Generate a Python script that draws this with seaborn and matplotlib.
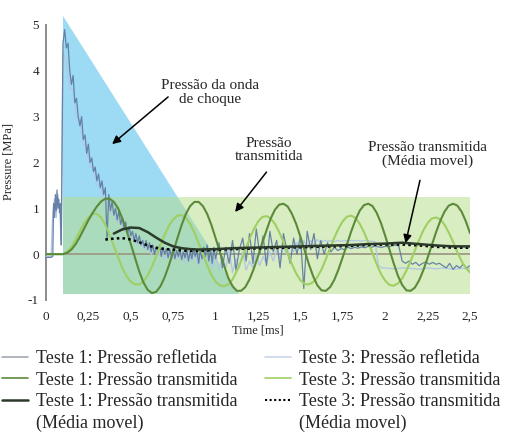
import matplotlib
matplotlib.use("Agg")
import matplotlib.pyplot as plt
import numpy as np
import pandas as pd
import seaborn as sns
from matplotlib.lines import Line2D

# ---- data (time in ms, pressure in MPa) ----
# reflected pressure, test 1 (dark, noisy)
t_refl1 = [0, 0.03, 0.04, 0.045, 0.05, 0.055, 0.06, 0.065, 0.07, 0.075, 0.08, 0.085, 0.09, 0.095, 0.1,
           0.11, 0.12, 0.13, 0.14, 0.15, 0.16, 0.17, 0.18, 0.19, 0.20,
           0.21, 0.22, 0.23, 0.24, 0.25, 0.26, 0.27, 0.28, 0.29, 0.30,
           0.31, 0.32, 0.33, 0.34, 0.35, 0.36, 0.37, 0.38, 0.39, 0.40,
           0.41, 0.42, 0.43, 0.44, 0.45, 0.46, 0.47, 0.48, 0.49, 0.50,
           0.51, 0.52, 0.53, 0.54, 0.55, 0.56, 0.57, 0.58, 0.59, 0.60,
           0.61, 0.62, 0.63, 0.64, 0.65, 0.66, 0.67, 0.68, 0.69, 0.70,
           0.71, 0.72, 0.73, 0.74, 0.75, 0.76, 0.77, 0.78, 0.79, 0.80,
           0.81, 0.82, 0.83, 0.84, 0.85, 0.86, 0.87, 0.88, 0.89, 0.90,
           0.91, 0.92, 0.93, 0.94, 0.95, 0.96, 0.97, 0.98, 0.99,
           1.00, 1.02, 1.04, 1.06, 1.08, 1.10, 1.12, 1.14, 1.16, 1.18,
           1.20, 1.22, 1.24, 1.26, 1.28, 1.30, 1.32, 1.34, 1.36, 1.38,
           1.40, 1.42, 1.44, 1.46, 1.48, 1.50, 1.52, 1.54, 1.56, 1.58,
           1.60, 1.62, 1.64, 1.66, 1.68, 1.70, 1.72, 1.74, 1.76, 1.78,
           1.80, 1.82, 1.84, 1.86, 1.88, 1.90, 1.92, 1.94, 1.96, 1.98,
           2.00, 2.02, 2.04, 2.06, 2.08, 2.10, 2.12, 2.14, 2.16, 2.18,
           2.20, 2.22, 2.24, 2.26, 2.28, 2.30, 2.32, 2.34, 2.36, 2.38,
           2.40, 2.42, 2.44, 2.46, 2.48, 2.50]
p_refl1 = [-0.07, -0.07, -0.05, 1.1, 0.8, 1.3, 0.95, 1.4, 1.0, 1.2, 0.9, 1.1, 0.2, 2.5, 4.6,
           4.9, 4.5, 4.6, 4.0, 3.7, 3.9, 3.3, 3.4, 3.0, 2.8,
           3.0, 2.5, 2.6, 2.2, 2.4, 2.0, 2.1, 1.8, 1.9, 1.6,
           1.75, 1.45, 1.6, 1.3, 1.45, 0.3, 1.3, 0.95, 1.15, 0.85,
           1.0, 0.75, 0.95, 0.65, 0.8, 0.55, 0.7, 0.45, 0.6, 0.4,
           0.5, 0.3, 0.45, 0.25, 0.4, 0.2, 0.3, 0.15, 0.3, 0.1,
           0.25, 0.05, 0.2, 0.0, 0.15, 0.05, 0.2, -0.05, 0.15, 0.0,
           0.12, -0.08, 0.1, -0.05, 0.12, -0.1, 0.08, -0.05, 0.1, -0.12,
           0.05, -0.08, 0.1, -0.15, 0.05, -0.1, 0.12, -0.05, 0.08, -0.2,
           0.1, -0.1, 0.15, -0.05, 0.2, -0.15, 0.1, -0.2, 0.15,
           -0.1, 0.25, -0.3, 0.15, -0.2, 0.3, -0.35, 0.1, 0.35, -0.15,
           0.45, -0.2, 0.55, 0.0, 0.4, -0.25, 0.5, 0.05, 0.3, -0.3,
           0.45, 0.1, -0.2, 0.35, 0.0, 0.4, -0.75, 0.5, 0.1, 0.45,
           -0.1, 0.3, 0.0, 0.25, 0.05, 0.15, 0.08, 0.12, 0.1, 0.15,
           0.12, 0.15, 0.13, 0.16, 0.14, 0.17, 0.15, 0.18, 0.16, 0.15,
           0.17, 0.16, 0.18, 0.2, 0.18, -0.15, -0.2, -0.15, -0.22, -0.18,
           -0.25, -0.2, -0.17, -0.22, -0.18, -0.22, -0.2, -0.25, -0.3, -0.2,
           -0.33, -0.25, -0.3, -0.22, -0.3, -0.25]

# reflected pressure, test 3 (light)
t_refl3 = [0, 0.03, 0.04, 0.05, 0.06, 0.07, 0.08, 0.09, 0.1,
           0.12, 0.14, 0.16, 0.18, 0.20, 0.22, 0.24, 0.26, 0.28, 0.30,
           0.32, 0.34, 0.36, 0.38, 0.40, 0.42, 0.44, 0.46, 0.48, 0.50,
           0.52, 0.54, 0.56, 0.58, 0.60, 0.62, 0.64, 0.66, 0.68, 0.70,
           0.72, 0.74, 0.76, 0.78, 0.80, 0.82, 0.84, 0.86, 0.88, 0.90,
           0.92, 0.94, 0.96, 0.98, 1.00, 1.02, 1.04, 1.06, 1.08, 1.10,
           1.12, 1.14, 1.16, 1.18, 1.20, 1.22, 1.24, 1.26, 1.28, 1.30,
           1.32, 1.34, 1.36, 1.38, 1.40, 1.42, 1.44, 1.46, 1.48, 1.50,
           1.52, 1.54, 1.56, 1.58, 1.60, 1.62, 1.64, 1.66, 1.68, 1.70,
           1.72, 1.74, 1.76, 1.78, 1.80, 1.82, 1.84, 1.86, 1.88, 1.90,
           1.92, 1.94, 1.96, 1.98, 2.00, 2.05, 2.10, 2.15, 2.20, 2.25,
           2.30, 2.35, 2.40, 2.45, 2.50]
p_refl3 = [-0.05, -0.05, 0.9, 1.2, 0.8, 1.3, 1.0, 0.3, 4.4,
           4.2, 3.6, 3.6, 3.0, 2.9, 2.4, 2.3, 1.9, 1.9, 1.5,
           1.5, 1.2, 1.2, 0.9, 0.95, 0.7, 0.75, 0.5, 0.55, 0.35,
           0.4, 0.2, 0.3, 0.1, 0.2, 0.0, 0.15, -0.05, 0.1, -0.1,
           0.05, -0.15, 0.05, -0.1, 0.0, -0.2, 0.05, -0.15, 0.0, -0.25,
           0.05, -0.2, -0.05, -0.3, 0.0, -0.35, -0.05, -0.3, 0.1, -0.4,
           -0.1, -0.3, 0.05, -0.35, -0.15, -0.3, 0.0, -0.25, -0.05, -0.2,
           0.05, -0.15, 0.1, -0.1, 0.15, 0.0, 0.2, 0.05, 0.25, 0.1,
           0.3, 0.15, 0.3, 0.2, 0.32, 0.25, 0.3, 0.28, 0.3, 0.27,
           0.3, 0.28, 0.3, 0.28, 0.3, 0.29, 0.3, 0.28, 0.3, 0.29,
           0.28, 0.27, -0.25, -0.3, -0.3, -0.32, -0.3, -0.31, -0.33, -0.3,
           -0.32, -0.3, -0.33, -0.31, -0.32]

# transmitted pressure (sampled every 0.025 ms)
t_trans = [round(0.025 * i, 3) for i in range(101)]
p_trans1 = [0, 0, 0, 0, 0, 0.03, 0.1, 0.22, 0.38, 0.56,
            0.74, 0.9, 1.04, 1.15, 1.21, 1.21, 1.14, 1.0, 0.78, 0.52,
            0.22, -0.08, -0.38, -0.62, -0.78, -0.85, -0.82, -0.7, -0.5, -0.24,
            0.05, 0.35, 0.64, 0.88, 1.05, 1.14, 1.14, 1.05, 0.88, 0.64,
            0.35, 0.05, -0.25, -0.52, -0.7, -0.8, -0.8, -0.72, -0.55, -0.32,
            -0.05, 0.24, 0.52, 0.78, 0.97, 1.08, 1.1, 1.04, 0.88, 0.66,
            0.38, 0.08, -0.22, -0.48, -0.68, -0.79, -0.8, -0.72, -0.56, -0.33,
            -0.06, 0.22, 0.5, 0.75, 0.95, 1.07, 1.1, 1.05, 0.9, 0.68,
            0.4, 0.1, -0.2, -0.47, -0.67, -0.79, -0.8, -0.73, -0.57, -0.35,
            -0.08, 0.2, 0.48, 0.73, 0.93, 1.06, 1.1, 1.06, 0.93, 0.72,
            0.46]
p_trans3 = [0, 0, 0, 0, 0, 0.05, 0.16, 0.32, 0.5, 0.67,
            0.8, 0.88, 0.88, 0.8, 0.64, 0.42, 0.18, -0.07, -0.3, -0.48,
            -0.6, -0.66, -0.66, -0.6, -0.46, -0.27, -0.04, 0.2, 0.43, 0.62,
            0.76, 0.84, 0.85, 0.79, 0.66, 0.47, 0.24, 0.0, -0.24, -0.45,
            -0.6, -0.68, -0.7, -0.66, -0.55, -0.37, -0.15, 0.09, 0.33, 0.54,
            0.71, 0.81, 0.83, 0.78, 0.66, 0.48, 0.26, 0.02, -0.22, -0.42,
            -0.57, -0.65, -0.66, -0.61, -0.5, -0.33, -0.11, 0.13, 0.36, 0.56,
            0.72, 0.82, 0.84, 0.79, 0.66, 0.48, 0.26, 0.02, -0.22, -0.43,
            -0.58, -0.67, -0.69, -0.64, -0.53, -0.36, -0.15, 0.08, 0.31, 0.52,
            0.68, 0.78, 0.8, 0.76, 0.64, 0.47, 0.27, 0.05, -0.15, -0.3,
            -0.4]

# moving averages of the transmitted pressure
t_ma1 = [0.4, 0.45, 0.5, 0.55, 0.6, 0.65, 0.7, 0.75, 0.8, 0.85, 0.9, 1.0, 1.1, 1.2, 1.3,
         1.4, 1.5, 1.6, 1.7, 1.8, 1.9, 2.0, 2.1, 2.2, 2.3, 2.4, 2.5]
p_ma1 = [0.45, 0.54, 0.58, 0.57, 0.48, 0.36, 0.25, 0.17, 0.13, 0.11, 0.1, 0.11, 0.13, 0.14, 0.15,
         0.16, 0.17, 0.18, 0.19, 0.2, 0.22, 0.23, 0.25, 0.22, 0.19, 0.17, 0.17]
t_ma3 = [0.35, 0.4, 0.45, 0.5, 0.55, 0.6, 0.65, 0.7, 0.75, 0.8, 0.85, 0.9, 1.0, 1.1, 1.2,
         1.3, 1.4, 1.5, 1.6, 1.7, 1.8, 1.9, 2.0, 2.1, 2.2, 2.3, 2.4, 2.5]
p_ma3 = [0.32, 0.34, 0.35, 0.32, 0.26, 0.19, 0.14, 0.11, 0.1, 0.08, 0.07, 0.07, 0.09, 0.11, 0.12,
         0.13, 0.14, 0.15, 0.16, 0.17, 0.18, 0.2, 0.21, 0.21, 0.19, 0.16, 0.14, 0.14]

# shaded zones: shock wave triangle and transmitted band
shock_t = [0.1, 0.1, 1.14]
shock_p = [5.2, -0.87, -0.87]
band_t = [0.1, 2.5, 2.5, 0.1]
band_p = [-0.87, -0.87, 1.25, 1.25]

x_ticks = [0, 0.25, 0.5, 0.75, 1, 1.25, 1.5, 1.75, 2, 2.25, 2.5]
x_tick_labels = ["0", "0,25", "0,5", "0,75", "1", "1,25", "1,5", "1,75", "2", "2,25", "2,5"]
y_ticks = [-1, 0, 1, 2, 3, 4, 5]

# ---- style ----
sns.set_theme(style="white")
plt.rcParams["font.family"] = ["Liberation Serif", "DejaVu Serif"]

c_refl1 = "#5b78a0"
c_refl3 = "#b4c8e2"
c_trans1 = "#5b8a3a"
c_trans3 = "#9fcf63"
c_ma1 = "#2b3a2b"

fig = plt.figure(figsize=(5.14, 4.37), dpi=100)
ax = fig.add_axes([46 / 514, 1 - 300 / 437, 424 / 514, (300 - 13.5) / 437])

ax.fill(shock_t, shock_p, color="#9ddaf3", lw=0, zorder=1)
ax.fill(band_t, band_p, color="#b5dd87", alpha=0.5, lw=0, zorder=2)
ax.axhline(0, xmin=0, xmax=1, color="#9d9b85", lw=1.3, zorder=3)

sns.lineplot(x=t_refl3, y=p_refl3, ax=ax, color=c_refl3, lw=1.0, estimator=None, zorder=4)
sns.lineplot(x=t_refl1, y=p_refl1, ax=ax, color=c_refl1, lw=0.9, alpha=0.9, estimator=None, zorder=5)
sns.lineplot(x=t_trans, y=p_trans3, ax=ax, color=c_trans3, lw=1.5, estimator=None, zorder=6)
sns.lineplot(x=t_trans, y=p_trans1, ax=ax, color=c_trans1, lw=1.5, estimator=None, zorder=7)
sns.lineplot(x=t_ma3, y=p_ma3, ax=ax, color="black", lw=1.8, ls=(0, (1, 1.3)), estimator=None, zorder=8)
sns.lineplot(x=t_ma1, y=p_ma1, ax=ax, color=c_ma1, lw=1.8, estimator=None, zorder=9)

ax.set_xlim(0, 2.5)
ax.set_ylim(-1, 5.25)
ax.set_xticks(x_ticks)
ax.set_xticklabels(x_tick_labels, fontsize=9.5)
ax.set_yticks(y_ticks)
ax.set_yticklabels([str(v) for v in y_ticks], fontsize=9.5)
ax.tick_params(axis="both", length=0, pad=5)
ax.tick_params(axis="x", pad=8)
for side in ["top", "right", "bottom"]:
    ax.spines[side].set_visible(False)
ax.spines["left"].set_color("#8c8c8c")
ax.spines["left"].set_linewidth(1.4)
ax.spines["left"].set_bounds(-1, 5)
ax.set_xlabel("Time [ms]", fontsize=9, labelpad=1)
ax.set_ylabel("Pressure [MPa]", fontsize=9)
ax.yaxis.set_label_coords(-0.074, 1 - (162 - 13.5) / (300 - 13.5))

# annotations: text and arrows drawn separately
arrow = dict(arrowstyle="-|>", color="black", lw=1.1, mutation_scale=12, shrinkA=0, shrinkB=0)
ax.text(0.967, 3.53, "Pressão da onda\nde choque", ha="center", va="center", fontsize=11, linespacing=1.05)
ax.annotate("", xy=(0.39, 2.40), xytext=(0.72, 3.43), arrowprops=arrow)
ax.text(1.315, 2.27, "Pressão\ntransmitida", ha="center", va="center", fontsize=11, linespacing=1.05)
ax.annotate("", xy=(1.115, 0.92), xytext=(1.30, 1.79), arrowprops=arrow)
ax.text(2.25, 2.18, "Pressão transmitida\n(Média movel)", ha="center", va="center", fontsize=11, linespacing=1.05)
ax.annotate("", xy=(2.12, 0.24), xytext=(2.205, 1.61), arrowprops=arrow)

blank = Line2D([], [], color="none")
handles = [
    Line2D([], [], color="#a3a8b3", lw=1.2),
    Line2D([], [], color=c_trans1, lw=1.2),
    Line2D([], [], color=c_ma1, lw=1.8),
    blank,
    Line2D([], [], color="#c9d5ea", lw=1.2),
    Line2D([], [], color=c_trans3, lw=1.2),
    Line2D([], [], color="black", lw=1.5, ls=(0, (1, 1.2))),
    blank,
]
labels = [
    "Teste 1: Pressão refletida",
    "Teste 1: Pressão transmitida",
    "Teste 1: Pressão transmitida",
    "(Média movel)",
    "Teste 3: Pressão refletida",
    "Teste 3: Pressão transmitida",
    "Teste 3: Pressão transmitida",
    "(Média movel)",
]
fig.legend(handles, labels, ncol=2, loc="upper left", bbox_to_anchor=(2 / 514, 1 - 350 / 437),
           frameon=False, fontsize=13, handlelength=1.45, handletextpad=0.45,
           columnspacing=1.5, labelspacing=0.25, borderpad=0, borderaxespad=0)

fig.savefig("out.png", dpi=100)
